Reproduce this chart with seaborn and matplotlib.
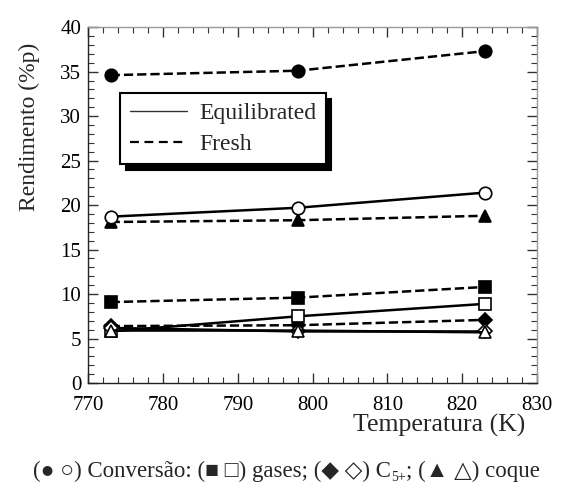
import matplotlib
matplotlib.use("Agg")
import matplotlib.pyplot as plt
import seaborn as sns
import pandas as pd
from matplotlib.lines import Line2D
from matplotlib.ticker import MultipleLocator

sns.set_style("ticks")
plt.rcParams['font.family'] = ['Liberation Serif', 'DejaVu Sans']

temperature = [773, 798, 823]
# Fresh catalyst (filled markers, dashed lines)
fresh_conversao = [34.6, 35.1, 37.3]
fresh_coque = [18.1, 18.3, 18.8]
fresh_gases = [9.1, 9.6, 10.8]
fresh_c5 = [6.4, 6.5, 7.1]
# Equilibrated catalyst (open markers, solid lines)
eq_conversao = [18.7, 19.7, 21.4]
eq_gases = [5.8, 7.5, 8.9]
eq_c5 = [6.2, 5.8, 5.8]
eq_coque = [5.9, 5.9, 5.7]

legend_labels = ['Equilibrated', 'Fresh']
caption_parts = ['(● ○) Conversão: (■ □) gases; (◆ ◇) C', '5+', '; (▲ △) coque']

series = [
    (fresh_conversao, 'o', True, '--'),
    (fresh_coque, '^', True, '--'),
    (fresh_gases, 's', True, '--'),
    (fresh_c5, 'D', True, '--'),
    (eq_conversao, 'o', False, '-'),
    (eq_gases, 's', False, '-'),
    (eq_c5, 'D', False, '-'),
    (eq_coque, '^', False, '-'),
]

fig = plt.figure(figsize=(5.69, 4.93), dpi=100)
ax = fig.add_axes([0.155, 0.223, 0.789, 0.722])

for vals, mk, filled, ls in series:
    df = pd.DataFrame({'T': temperature, 'y': vals})
    ms = 9 if mk != 'D' else 7
    kw = dict(dashes=(3, 2)) if ls == '--' else {}
    sns.lineplot(data=df, x='T', y='y', ax=ax, color='black', linestyle=ls,
                 linewidth=1.8, marker=mk, markersize=ms,
                 markerfacecolor='black' if filled else 'white',
                 markeredgecolor='black', markeredgewidth=1.2, **kw)

ax.set_xlim(770, 830)
ax.set_ylim(0, 40)
ax.xaxis.set_major_locator(MultipleLocator(10))
ax.xaxis.set_minor_locator(MultipleLocator(2))
ax.yaxis.set_major_locator(MultipleLocator(5))
ax.yaxis.set_minor_locator(MultipleLocator(1))
ax.tick_params(which='both', direction='in', top=True, right=True,
               labelsize=15, colors='#333333', labelcolor='black')
ax.tick_params(which='major', length=7, width=1)
ax.tick_params(which='minor', length=4, width=0.8)
ax.tick_params(axis='x', pad=9)
ax.tick_params(axis='y', pad=5)
ax.spines['left'].set_color('#222222')
ax.spines['bottom'].set_color('#222222')
ax.spines['top'].set_color('#999999')
ax.spines['right'].set_color('#999999')
for s in ax.spines.values():
    s.set_linewidth(1.0)

ax.set_xlabel('Temperatura (K)', fontsize=18.5, va='center')
ax.xaxis.set_label_coords(0.782, -0.118)
ax.set_ylabel('Rendimento (%p)', fontsize=17, va='center')
ax.yaxis.set_label_coords(-0.132, 0.72)

handles = [Line2D([], [], color='#333333', linestyle='-', linewidth=1.0),
           Line2D([], [], color='black', linestyle=(0, (4, 2.5)), linewidth=1.6)]
leg = ax.legend(handles, legend_labels, loc='upper left',
                bbox_to_anchor=(0.071, 0.815), borderaxespad=0, fontsize=17,
                frameon=True, fancybox=False, framealpha=1, edgecolor='black',
                shadow={'color': 'black', 'alpha': 1, 'ox': 4, 'oy': -4},
                handlelength=2.45, handletextpad=0.5, borderpad=0.4,
                labelspacing=0.4)
leg.get_frame().set_linewidth(1.5)

cap_size = 16.5
t1 = fig.text(0.058, 0.022, caption_parts[0], ha='left', va='bottom',
              fontsize=cap_size, family=['Liberation Serif', 'DejaVu Sans'])
t2 = ax.annotate(caption_parts[1], xy=(1, 0), xycoords=t1, xytext=(0, -1),
                 textcoords='offset points', ha='left', va='bottom',
                 fontsize=cap_size * 0.6, annotation_clip=False)
t3 = ax.annotate(caption_parts[2], xy=(1, 0), xycoords=t2, xytext=(0, 1),
                 textcoords='offset points', ha='left', va='bottom',
                 fontsize=cap_size, family=['Liberation Serif', 'DejaVu Sans'],
                 annotation_clip=False)

fig.savefig('out.png', dpi=100)
